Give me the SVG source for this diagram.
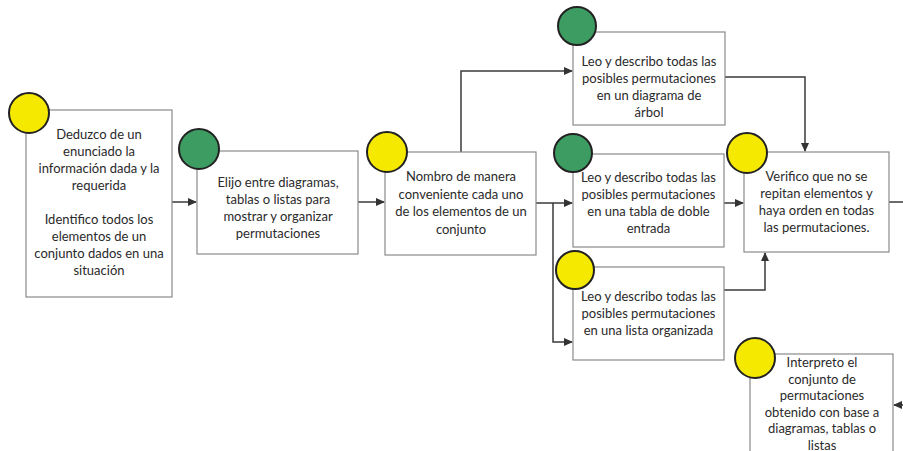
<svg xmlns="http://www.w3.org/2000/svg" width="903" height="451" viewBox="0 0 903 451">
<defs>
<marker id="ah" markerWidth="9" markerHeight="8" refX="8" refY="4" orient="auto" markerUnits="userSpaceOnUse">
<path d="M0,0 L9,4 L0,8 Z" fill="#333"/>
</marker>
<style>
.box{fill:#fff;stroke:#8a8a8a;stroke-width:1.2}
.y{fill:#f6e900;stroke:#222;stroke-width:2}
.g{fill:#3c9c62;stroke:#222;stroke-width:2}
.t{font-family:Lato,"Liberation Sans",sans-serif;font-size:13px;fill:#2a2a2a;text-anchor:middle}
.c{fill:none;stroke:#3a3a3a;stroke-width:1.5}
</style>
</defs>
<rect width="903" height="451" fill="#fff"/>

<g id="connectors">
<path class="c" d="M172,202 H196" marker-end="url(#ah)"/>
<path class="c" d="M358,202 H384" marker-end="url(#ah)"/>
<path class="c" d="M461,152 V71 H572" marker-end="url(#ah)"/>
<path class="c" d="M536,203 H572" marker-end="url(#ah)"/>
<path class="c" d="M553,203 V342 H572" marker-end="url(#ah)"/>
<path class="c" d="M724,203 H743" marker-end="url(#ah)"/>
<path class="c" d="M725,77 H805 V151" marker-end="url(#ah)"/>
<path class="c" d="M724,290 H765 V253" marker-end="url(#ah)"/>
<path class="c" d="M889,202 H903"/>
<path class="c" d="M903,405 H894" marker-end="url(#ah)"/>
</g>

<g id="n1">
<rect class="box" x="26" y="110" width="146" height="187"/>
<circle class="y" cx="29" cy="113" r="20"/>
<text class="t" x="99" y="139">Deduzco de un</text>
<text class="t" x="99" y="156">enunciado la</text>
<text class="t" x="99" y="173">información dada y la</text>
<text class="t" x="99" y="190">requerida</text>
<text class="t" x="99" y="224">Identifico todos los</text>
<text class="t" x="99" y="241">elementos de un</text>
<text class="t" x="99" y="258">conjunto dados en una</text>
<text class="t" x="99" y="275">situación</text>
</g>

<g id="n2">
<rect class="box" x="197" y="151" width="161" height="103"/>
<circle class="g" cx="199" cy="149" r="20"/>
<text class="t" x="278" y="187">Elijo entre diagramas,</text>
<text class="t" x="278" y="204">tablas o listas para</text>
<text class="t" x="278" y="221">mostrar y organizar</text>
<text class="t" x="278" y="238">permutaciones</text>
</g>

<g id="n3">
<rect class="box" x="385" y="152" width="151" height="103"/>
<circle class="y" cx="387" cy="152" r="20"/>
<text class="t" x="461" y="181">Nombro de manera</text>
<text class="t" x="461" y="199">conveniente cada uno</text>
<text class="t" x="461" y="216">de los elementos de un</text>
<text class="t" x="461" y="234">conjunto</text>
</g>

<g id="n4">
<rect class="box" x="573" y="32" width="152" height="93"/>
<circle class="g" cx="577" cy="26" r="19"/>
<text class="t" x="649" y="66">Leo y describo todas las</text>
<text class="t" x="649" y="83">posibles permutaciones</text>
<text class="t" x="649" y="100">en un diagrama de</text>
<text class="t" x="649" y="117">árbol</text>
</g>

<g id="n5">
<rect class="box" x="573" y="154" width="151" height="93"/>
<circle class="g" cx="573" cy="153" r="19"/>
<text class="t" x="648.5" y="182">Leo y describo todas las</text>
<text class="t" x="648.5" y="199">posibles permutaciones</text>
<text class="t" x="648.5" y="216">en una tabla de doble</text>
<text class="t" x="648.5" y="233">entrada</text>
</g>

<g id="n6">
<rect class="box" x="573" y="267" width="151" height="93"/>
<circle class="y" cx="575" cy="270" r="19"/>
<text class="t" x="648.5" y="301">Leo y describo todas las</text>
<text class="t" x="648.5" y="318">posibles permutaciones</text>
<text class="t" x="648.5" y="335">en una lista organizada</text>
</g>

<g id="n7">
<rect class="box" x="744" y="152" width="145" height="100"/>
<circle class="y" cx="747" cy="153" r="20"/>
<text class="t" x="816.5" y="181">Verifico que no se</text>
<text class="t" x="816.5" y="198">repitan elementos y</text>
<text class="t" x="816.5" y="215">haya orden en todas</text>
<text class="t" x="816.5" y="232">las permutaciones.</text>
</g>

<g id="n8">
<rect class="box" x="750" y="354" width="143" height="110"/>
<circle class="y" cx="755" cy="358" r="20"/>
<text class="t" x="822" y="367">Interpreto el</text>
<text class="t" x="822" y="383.5">conjunto de</text>
<text class="t" x="822" y="400">permutaciones</text>
<text class="t" x="822" y="416.5">obtenido con base a</text>
<text class="t" x="822" y="433">diagramas, tablas o</text>
<text class="t" x="822" y="449.5">listas</text>
</g>
</svg>
